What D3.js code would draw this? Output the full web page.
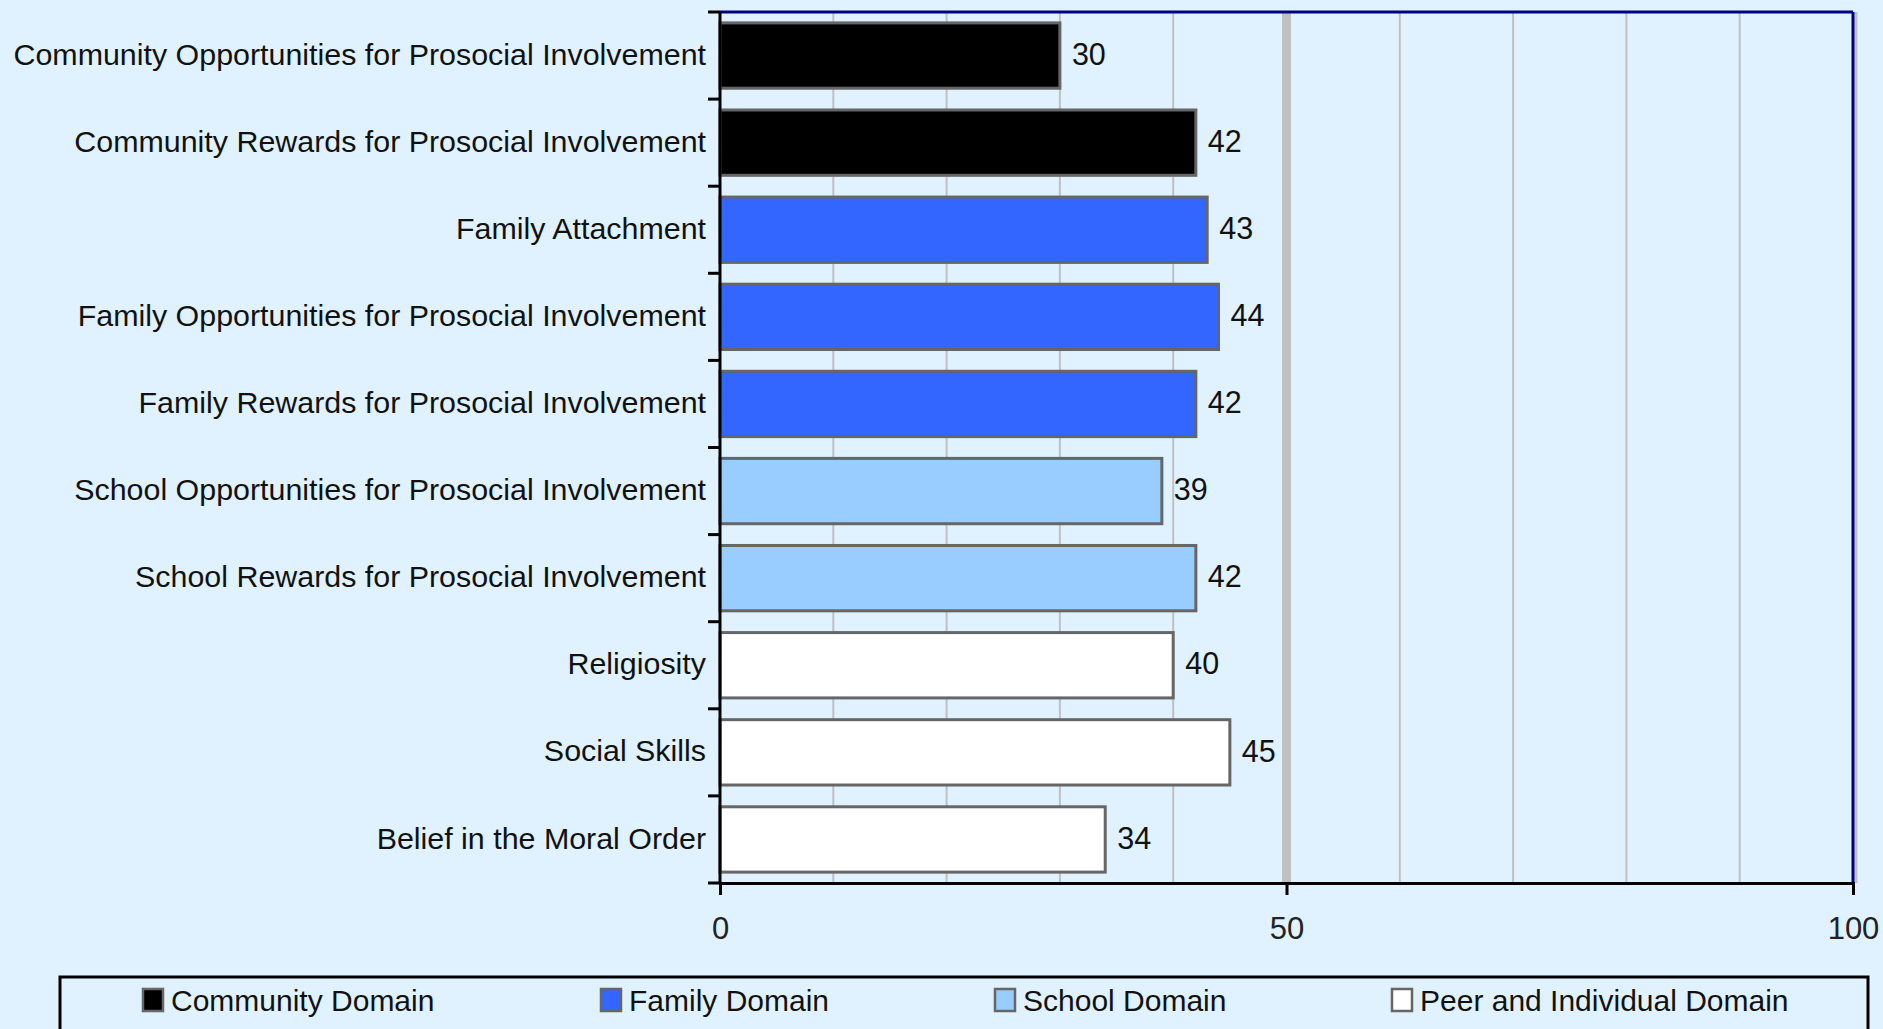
<!DOCTYPE html>
<meta charset="utf-8">
<style>
body { margin: 0; background: #e0f2ff; }
svg { display: block; font-family: "Liberation Sans", Arial, sans-serif; }
.grid line { stroke: #c0c0c0; stroke-width: 2px; }
.bars rect { stroke: #666666; stroke-width: 3px; }
</style>
<svg width="1883" height="1029"></svg>
<script src="https://d3js.org/d3.v7.min.js"></script>
<script>

var categories = [
  "Community Opportunities for Prosocial Involvement",
  "Community Rewards for Prosocial Involvement",
  "Family Attachment",
  "Family Opportunities for Prosocial Involvement",
  "Family Rewards for Prosocial Involvement",
  "School Opportunities for Prosocial Involvement",
  "School Rewards for Prosocial Involvement",
  "Religiosity",
  "Social Skills",
  "Belief in the Moral Order"
];
var values = [30, 42, 43, 44, 42, 39, 42, 40, 45, 34];
var domains = ["Community", "Community", "Family", "Family", "Family",
               "School", "School", "Peer", "Peer", "Peer"];
var legendNames = ["Community Domain", "Family Domain", "School Domain", "Peer and Individual Domain"];
var xTicks = [0, 50, 100];
var gridTicks = [10, 20, 30, 40, 60, 70, 80, 90];

var colors = { Community: "#000000", Family: "#3366ff", School: "#99ccff", Peer: "#ffffff" };
var legendColors = ["#000000", "#3366ff", "#99ccff", "#ffffff"];

var svg = d3.select("svg"),
    width = +svg.attr("width"),
    height = +svg.attr("height");

svg.append("rect").attr("width", width).attr("height", height).attr("fill", "#e0f2ff");

var margin = {top: 12, right: 30, bottom: 146, left: 720};
var x = d3.scaleLinear().domain([0, 100]).range([margin.left, width - margin.right]);
var y = d3.scaleBand().domain(categories).range([margin.top, height - margin.bottom]).paddingInner(0.25).paddingOuter(0.125);

// gridlines
svg.append("g").attr("class", "grid")
  .selectAll("line").data(gridTicks).enter().append("line")
    .attr("x1", d => x(d)).attr("x2", d => x(d))
    .attr("y1", y.range()[0]).attr("y2", y.range()[1]);

svg.append("line")
    .attr("x1", x(50)).attr("x2", x(50))
    .attr("y1", y.range()[0]).attr("y2", y.range()[1])
    .attr("stroke", "#c0c0c0").attr("stroke-width", 9);

// plot border top/right
svg.append("line")
    .attr("x1", x(0)).attr("x2", x(100))
    .attr("y1", y.range()[0]).attr("y2", y.range()[0])
    .attr("stroke", "#000080").attr("stroke-width", 3);
svg.append("line")
    .attr("x1", x(100) + 3).attr("x2", x(100) + 3)
    .attr("y1", y.range()[0]).attr("y2", y.range()[1])
    .attr("stroke", "#c0c0c0").attr("stroke-width", 3);
svg.append("line")
    .attr("x1", x(100)).attr("x2", x(100))
    .attr("y1", y.range()[0]).attr("y2", y.range()[1])
    .attr("stroke", "#000080").attr("stroke-width", 3);

// bars
var data = categories.map((c, i) => ({cat: c, value: values[i], domain: domains[i]}));

svg.append("g").attr("class", "bars")
  .selectAll("rect").data(data).enter().append("rect")
    .attr("x", x(0))
    .attr("y", d => y(d.cat))
    .attr("width", d => x(d.value) - x(0))
    .attr("height", y.bandwidth())
    .attr("fill", d => colors[d.domain]);

svg.append("g")
  .selectAll("text").data(data).enter().append("text")
    .attr("x", d => x(d.value) + 12)
    .attr("y", d => y(d.cat) + y.bandwidth() / 2)
    .attr("dy", "0.3em")
    .attr("font-size", 30.5)
    .attr("fill", "#111")
    .text(d => d.value);

// category labels
svg.append("g")
  .selectAll("text").data(categories).enter().append("text")
    .attr("x", x(0) - 14)
    .attr("y", d => y(d) + y.bandwidth() / 2)
    .attr("dy", "0.3em")
    .attr("text-anchor", "end")
    .attr("font-size", 30.4)
    .attr("fill", "#111")
    .text(d => d);

// y axis with ticks between categories
var step = y.step();
var bounds = d3.range(categories.length + 1).map(i => y.range()[0] + i * step);
svg.append("line")
    .attr("x1", x(0)).attr("x2", x(0))
    .attr("y1", y.range()[0]).attr("y2", y.range()[1] + 1.5)
    .attr("stroke", "#000").attr("stroke-width", 3);
svg.append("g").selectAll("line").data(bounds).enter().append("line")
    .attr("x1", x(0) - 12).attr("x2", x(0))
    .attr("y1", d => d).attr("y2", d => d)
    .attr("stroke", "#000").attr("stroke-width", 3);

// x axis
var xAxis = svg.append("g")
    .attr("transform", "translate(0," + y.range()[1] + ")")
    .call(d3.axisBottom(x).tickValues(xTicks).tickSize(12).tickPadding(22).tickFormat(d3.format("d")));
xAxis.select(".domain").attr("stroke", "#000").attr("stroke-width", 3);
xAxis.selectAll(".tick line").attr("stroke", "#000").attr("stroke-width", 3);
xAxis.selectAll(".tick text")
    .attr("font-size", 31)
    .attr("font-family", "'Liberation Sans', Arial, sans-serif")
    .attr("fill", "#222");

// legend
var legendX = [142, 600, 994, 1391];
var legend = svg.append("g");
legend.append("rect")
    .attr("x", 60).attr("y", 977)
    .attr("width", 1808).attr("height", 80)
    .attr("fill", "none").attr("stroke", "#000").attr("stroke-width", 3);

var item = legend.selectAll("g.item").data(legendNames).enter().append("g")
    .attr("class", "item")
    .attr("transform", (d, i) => "translate(" + legendX[i] + ",1000)");
item.append("rect")
    .attr("x", 1).attr("y", -11)
    .attr("width", 20).attr("height", 22)
    .attr("fill", (d, i) => legendColors[i])
    .attr("stroke", "#666666").attr("stroke-width", 2.5);
item.append("text")
    .attr("x", 29).attr("dy", "0.35em")
    .attr("font-size", 30)
    .attr("fill", "#111")
    .text(d => d);

</script>
